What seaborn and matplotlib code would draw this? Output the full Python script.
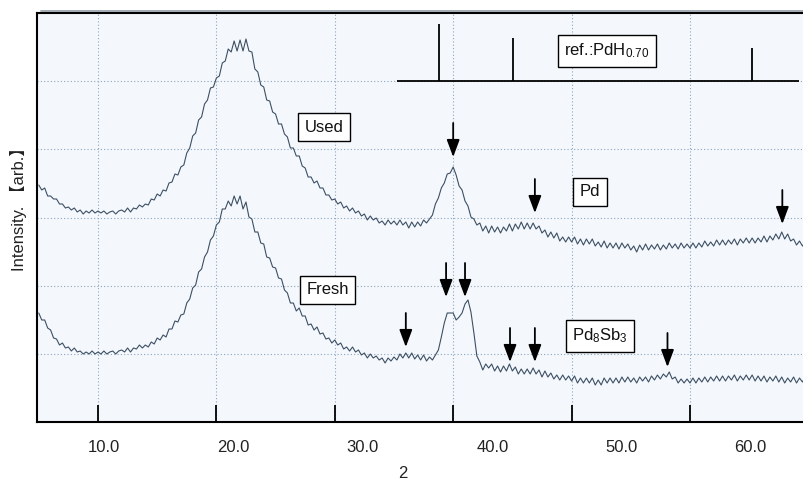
import numpy as np
import pandas as pd
import matplotlib
matplotlib.use("Agg")
import matplotlib.pyplot as plt
from matplotlib.lines import Line2D
import seaborn as sns

# ---------------- data ----------------
two_theta = np.linspace(5.0, 69.75, 260)  # 0.25 deg steps

used = [
    237, 232, 234, 226, 226, 223, 223, 218, 218, 214, 215, 212, 214, 210, 212, 208, 211, 209, 212, 209,
    211, 209, 211, 208, 210, 211, 208, 211, 212, 210, 214, 210, 214, 213, 217, 215, 218, 217, 223, 222,
    228, 226, 232, 231, 239, 240, 248, 247, 255, 257, 269, 274, 286, 289, 302, 305, 318, 322, 334, 335,
    344, 346, 359, 361, 373, 370, 381, 371, 382, 371, 383, 371, 370, 353, 350, 337, 335, 322, 321, 310,
    308, 298, 298, 288, 285, 274, 274, 266, 266, 256, 254, 245, 245, 239, 241, 234, 234, 227, 227, 222,
    223, 218, 220, 214, 216, 211, 214, 209, 211, 206, 208, 202, 206, 202, 204, 199, 201, 197, 202, 198,
    201, 197, 202, 197, 200, 194, 200, 195, 200, 196, 202, 199, 203, 207, 218, 224, 234, 239, 248, 249,
    255, 247, 236, 232, 221, 216, 205, 203, 197, 199, 191, 196, 189, 196, 190, 195, 189, 195, 191, 198,
    191, 198, 193, 200, 193, 199, 193, 199, 193, 196, 189, 192, 185, 190, 184, 189, 181, 185, 180, 185,
    180, 185, 178, 183, 177, 183, 178, 183, 176, 180, 175, 181, 174, 179, 174, 179, 173, 179, 174, 178,
    172, 176, 170, 177, 172, 178, 172, 177, 173, 178, 172, 177, 173, 179, 174, 178, 173, 179, 174, 178,
    174, 179, 174, 179, 175, 181, 176, 180, 176, 182, 177, 182, 177, 182, 178, 183, 177, 183, 179, 184,
    179, 184, 179, 184, 180, 186, 180, 186, 182, 188, 183, 190, 183, 188, 181, 183, 177, 181, 176, 180,
]

fresh = [
    109, 102, 102, 94, 92, 84, 83, 77, 79, 74, 75, 71, 74, 70, 71, 68, 70, 68, 71, 68,
    70, 68, 71, 68, 70, 71, 68, 71, 72, 70, 74, 70, 74, 73, 77, 74, 77, 75, 80, 78,
    84, 82, 87, 85, 93, 93, 101, 100, 107, 108, 119, 123, 134, 137, 150, 153, 165, 170, 182, 186,
    197, 200, 213, 213, 221, 216, 226, 218, 226, 213, 220, 205, 203, 190, 190, 179, 178, 165, 164, 155,
    154, 144, 143, 132, 129, 119, 119, 111, 114, 106, 106, 97, 98, 92, 95, 88, 89, 83, 84, 79,
    82, 77, 79, 73, 75, 71, 75, 70, 72, 67, 69, 64, 68, 64, 66, 62, 64, 59, 64, 61,
    65, 62, 68, 64, 69, 64, 69, 63, 67, 62, 67, 61, 65, 62, 67, 72, 85, 99, 109, 109,
    109, 102, 105, 109, 118, 122, 110, 89, 66, 60, 52, 58, 54, 58, 51, 56, 50, 56, 51, 58,
    51, 55, 48, 53, 48, 53, 48, 54, 48, 52, 45, 51, 45, 49, 43, 47, 42, 47, 42, 46,
    41, 46, 39, 44, 39, 44, 39, 44, 37, 42, 37, 44, 39, 44, 39, 44, 39, 45, 40, 45,
    40, 44, 39, 45, 41, 45, 40, 46, 42, 47, 43, 48, 45, 50, 43, 45, 39, 43, 39, 43,
    39, 44, 39, 44, 40, 45, 40, 45, 41, 46, 41, 46, 41, 46, 42, 47, 41, 46, 42, 47,
    42, 47, 41, 46, 41, 46, 40, 45, 41, 46, 40, 45, 39, 44, 40, 45, 39, 44, 40, 45,
]

# reference pattern PdH0.70
ref_two_theta = [38.8, 45.05, 65.2]
ref_rel_int = [100, 75, 58]
ref_baseline = 341
ref_span = (35.25, 69.2)

# peak-marker arrows (position, tip height)
used_arrow_x = [40.0, 46.9, 67.8]
used_arrow_tip = [265, 209, 198]
fresh_arrow_x = [36.0, 39.4, 41.0, 44.8, 46.9, 58.1]
fresh_arrow_tip = [75, 125, 125, 60, 60, 55]

# boxed labels
label_texts = ["Used", "Fresh", "Pd", "Pd$_{8}$Sb$_{3}$", "ref.:PdH$_{0.70}$"]
label_x = [29.1, 29.4, 51.55, 52.4, 53.0]
label_y = [295, 132, 230, 86, 371]

# x axis ticks / labels
tick_pos = [10, 20, 30, 40, 50, 60]
tick_label_pos = [10.5, 21.4, 32.3, 43.3, 54.2, 65.1]
tick_labels = ["10.0", "20.0", "30.0", "40.0", "50.0", "60.0"]

# ---------------- style ----------------
sns.set_theme(style="white")
plt.rcParams["font.family"] = ["Liberation Sans", "Noto Sans CJK JP", "DejaVu Sans"]
plt.rcParams["mathtext.fontset"] = "custom"
plt.rcParams["mathtext.rm"] = "Liberation Sans"
plt.rcParams["mathtext.it"] = "Liberation Sans:italic"
plt.rcParams["mathtext.bf"] = "Liberation Sans:bold"
plt.rcParams["mathtext.default"] = "rm"

W, H = 804, 487
fig = plt.figure(figsize=(W / 100, H / 100), dpi=100)
fig.patch.set_facecolor("white")
ax = fig.add_axes([37 / W, 65 / H, 767 / W, 409 / H])
ax.set_facecolor("#f4f8fd")

line_color = "#3d4f63"
df = pd.DataFrame({
    "two_theta": np.concatenate([two_theta, two_theta]),
    "intensity": used + fresh,
    "sample": ["Used"] * len(used) + ["Fresh"] * len(fresh),
})
sns.lineplot(data=df, x="two_theta", y="intensity", hue="sample",
             palette={"Used": line_color, "Fresh": line_color},
             estimator=None, sort=False, legend=False, lw=0.8, ax=ax, zorder=3)

ax.set_xlim(4.85, 69.63)
ax.set_ylim(0, 409)
ax.set_xlabel("")
ax.set_ylabel("")

# x ticks: inward marks at the grid, labels as drawn in the reference
ax.set_xticks(tick_label_pos)
ax.set_xticklabels(tick_labels)
ax.set_xticks(tick_pos, minor=True)
ax.tick_params(axis="x", which="major", length=0, pad=13, labelsize=12, labelcolor="#222222", bottom=True)
ax.tick_params(axis="x", which="minor", direction="in", length=12, width=1.3, color="black", bottom=True)
grid_y = np.linspace(0, 409, 7)[1:-1]
ax.set_yticks(grid_y)
ax.set_yticklabels([])
ax.tick_params(axis="y", length=0)

ax.grid(False)
ax.grid(which="minor", axis="x", ls=(0, (1, 2)), color="#8ea3bb", lw=0.8)
ax.grid(which="major", axis="y", ls=(0, (1, 2)), color="#8ea3bb", lw=0.8)
ax.set_axisbelow(True)

for s in ["left", "bottom", "top"]:
    ax.spines[s].set_visible(True)
    ax.spines[s].set_color("black")
    ax.spines[s].set_linewidth(1.5)
ax.spines["right"].set_visible(False)

# gray double line above the frame
fig.add_artist(Line2D([41 / W, 1.0], [1 - 10.5 / H, 1 - 10.5 / H], color="#9aa3ad", lw=1.3))

# reference stick pattern
ax.hlines(ref_baseline, ref_span[0], ref_span[1], color="black", lw=1.3, zorder=4)
ref_tops = [ref_baseline + 0.57 * v for v in ref_rel_int]
ax.vlines(ref_two_theta, ref_baseline, ref_tops, color="black", lw=1.3, zorder=4)

# arrows
arrow_len = 34
for xs, tips in [(used_arrow_x, used_arrow_tip), (fresh_arrow_x, fresh_arrow_tip)]:
    for x, t in zip(xs, tips):
        ax.annotate("", xy=(x, t), xytext=(x, t + arrow_len),
                    arrowprops=dict(arrowstyle="-|>,head_length=0.75,head_width=0.28",
                                    mutation_scale=14, color="black", lw=1.3,
                                    shrinkA=0, shrinkB=0),
                    zorder=6)

# boxed labels
for s, x, y in zip(label_texts, label_x, label_y):
    ax.text(x, y, s, ha="center", va="center", fontsize=12, color="#111111", zorder=7,
            bbox=dict(boxstyle="square,pad=0.38", fc="white", ec="black", lw=1.0))

# axis titles
fig.text(18 / W, 1 - 205 / H, "Intensity. 【arb.】", rotation=90, ha="center", va="center",
         fontsize=12, color="#222222")
fig.text(403 / W, 1 - 474 / H, "2", ha="center", va="center", fontsize=12, color="#222222")

fig.savefig("out.png", dpi=100)
